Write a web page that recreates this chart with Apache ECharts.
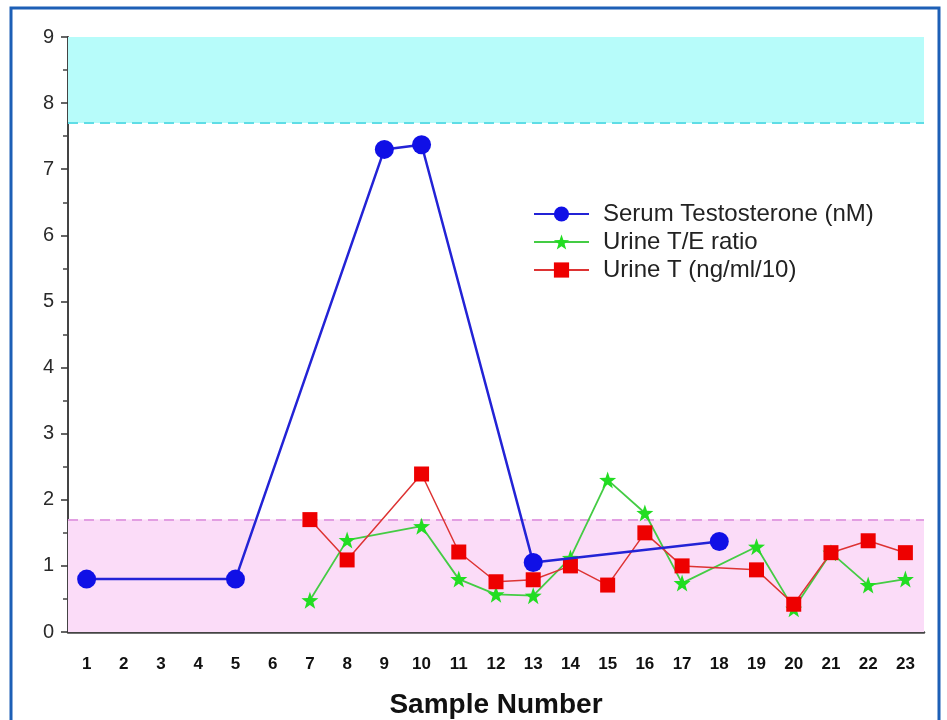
<!DOCTYPE html>
<html>
<head>
<meta charset="utf-8">
<script src="https://cdn.jsdelivr.net/npm/echarts@6/dist/echarts.min.js"></script>
<style>
  html, body { margin: 0; padding: 0; background: #ffffff; }
  #chart { width: 947px; height: 720px; }
</style>
</head>
<body>
<div id="chart"></div>
<script>
// Sample numbers along the x axis
const samples = ['1','2','3','4','5','6','7','8','9','10','11','12','13','14','15','16','17','18','19','20','21','22','23'];

// Serum testosterone (nM); null where no sample was taken
const serumT = [0.8, null, null, null, 0.8, null, null, null, 7.3, 7.37, null, null, 1.05, null, null, null, null, 1.37, null, null, null, null, null];

// Urine T/E ratio
const urineTE = [null, null, null, null, null, null, 0.48, 1.39, null, 1.6, 0.8, 0.57, 0.55, 1.12, 2.3, 1.8, 0.74, null, 1.29, 0.35, 1.2, 0.71, 0.8];

// Urine T (ng/ml/10)
const urineT = [null, null, null, null, null, null, 1.7, 1.09, null, 2.39, 1.21, 0.76, 0.79, 1.0, 0.71, 1.5, 1.0, null, 0.94, 0.42, 1.2, 1.38, 1.2];

// Reference bands on the y axis
const upperBand = [7.7, 9];
const lowerBand = [0, 1.7];

const seriesNames = ['Serum Testosterone (nM)', 'Urine T/E ratio', 'Urine T (ng/ml/10)'];

const font = "'Liberation Sans', Arial, sans-serif";

const chart = echarts.init(document.getElementById('chart'), null, { renderer: 'canvas' });

chart.setOption({
  backgroundColor: '#ffffff',
  animation: false,
  graphic: [{
    type: 'rect',
    shape: { x: 11, y: 8, width: 928, height: 730 },
    style: { fill: 'none', stroke: '#1d5fb6', lineWidth: 3 },
    silent: true,
    z: 100
  }],
  grid: { left: 68, right: 23, top: 37, bottom: 88, outerBoundsMode: 'none', containLabel: false },
  legend: {
    orient: 'vertical',
    left: 533,
    top: 202,
    padding: 0,
    itemWidth: 55,
    itemHeight: 19,
    itemGap: 4,
    data: seriesNames,
    textStyle: { fontFamily: font, fontSize: 24, lineHeight: 24, color: '#222', padding: [0, 0, 0, 9] }
  },
  xAxis: {
    type: 'category',
    data: samples,
    boundaryGap: true,
    name: 'Sample Number',
    nameLocation: 'middle',
    nameGap: 59,
    nameTextStyle: { fontFamily: font, fontSize: 28, fontWeight: 'bold', color: '#111' },
    axisLine: { lineStyle: { color: '#444', width: 2.5 } },
    axisTick: { alignWithLabel: true, length: 8, lineStyle: { color: '#333', width: 1.5 } },
    axisLabel: { fontFamily: font, fontSize: 17, fontWeight: 'bold', color: '#111', margin: 24, interval: 0 },
    splitLine: { show: false }
  },
  yAxis: {
    type: 'value',
    min: 0,
    max: 9,
    interval: 1,
    axisLine: { show: true, lineStyle: { color: '#444', width: 2 } },
    axisTick: { show: true, length: 7, lineStyle: { color: '#333', width: 1.5 } },
    minorTick: { show: true, splitNumber: 2, length: 5, lineStyle: { color: '#444', width: 1.5 } },
    axisLabel: { fontFamily: font, fontSize: 20, color: '#2a2a2a', margin: 14 },
    splitLine: { show: false }
  },
  series: [
    {
      name: seriesNames[0],
      type: 'line',
      data: serumT,
      connectNulls: true,
      symbol: 'circle',
      symbolSize: 19,
      itemStyle: { color: '#1010e6' },
      lineStyle: { color: '#2323d6', width: 2.5 },
      z: 5,
      markArea: {
        silent: true,
        z: 1,
        data: [
          [{ yAxis: upperBand[0], itemStyle: { color: '#b7fcfa' } }, { yAxis: upperBand[1] }],
          [{ yAxis: lowerBand[0], itemStyle: { color: '#fbdcf8' } }, { yAxis: lowerBand[1] }]
        ]
      },
      markLine: {
        silent: true,
        z: 2,
        symbol: 'none',
        label: { show: false },
        data: [
          { yAxis: upperBand[0], lineStyle: { color: '#5fdde6', type: [10, 6], width: 2 } },
          { yAxis: lowerBand[1], lineStyle: { color: '#e29ee2', type: [10, 6], width: 2 } }
        ]
      }
    },
    {
      name: seriesNames[1],
      type: 'line',
      data: urineTE,
      connectNulls: true,
      symbol: 'path://M0,-10 L2.35,-3.24 L9.51,-3.09 L3.8,1.24 L5.88,8.09 L0,4 L-5.88,8.09 L-3.8,1.24 L-9.51,-3.09 L-2.35,-3.24 Z',
      symbolSize: 17,
      itemStyle: { color: '#22dd22' },
      lineStyle: { color: '#44cc44', width: 1.8 },
      z: 3
    },
    {
      name: seriesNames[2],
      type: 'line',
      data: urineT,
      connectNulls: true,
      symbol: 'rect',
      symbolSize: 15,
      itemStyle: { color: '#ee0000' },
      lineStyle: { color: '#dd3333', width: 1.5 },
      z: 4
    }
  ]
});
</script>
</body>
</html>
